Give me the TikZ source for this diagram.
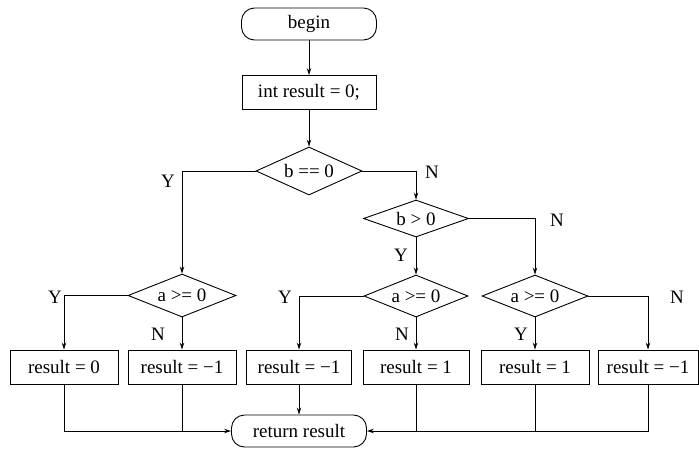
\documentclass[tikz,border=0pt]{standalone}
\usepackage{fontspec}
\setmainfont{Liberation Serif}
\usetikzlibrary{shapes.geometric,arrows.meta}
\begin{document}
\begin{tikzpicture}[x=1pt,y=-1pt,
  font=\fontsize{19}{21}\selectfont,
  line width=0.9pt,
  term/.style={draw, rounded corners=13pt, minimum width=135pt, minimum height=32pt, inner sep=0pt},
  proc/.style={draw, minimum height=34pt, inner sep=0pt},
  dec/.style={draw, diamond, aspect=2.8, inner sep=0pt},
  arr/.style={-{Stealth[length=7pt,width=4.5pt]}},
  lbl/.style={inner sep=0pt}]
\useasboundingbox (0,0) rectangle (699,448);
% nodes
\node[term] (begin) at (309,24) {begin};
\node[proc, minimum width=134pt] (init) at (309,92.5) {int result = 0;};
\node[dec, minimum width=106pt, minimum height=48pt] (bz) at (309,171) {b == 0};
\node[dec, minimum width=105pt, minimum height=37pt] (bp) at (416,218.5) {b > 0};
\node[dec, minimum width=108pt, minimum height=43pt] (dl) at (182,295.5) {a >= 0};
\node[dec, minimum width=104pt, minimum height=42pt] (dm) at (416,296) {a >= 0};
\node[dec, minimum width=106pt, minimum height=42pt] (dr) at (535,296) {a >= 0};
\node[proc, minimum width=108pt] (r1) at (64,367) {result = 0};
\node[proc, minimum width=108pt] (r2) at (182,367) {result = −1};
\node[proc, minimum width=105pt] (r3) at (299,367) {result = −1};
\node[proc, minimum width=106pt] (r4) at (416,367) {result = 1};
\node[proc, minimum width=108pt] (r5) at (535,367) {result = 1};
\node[proc, minimum width=100pt] (r6) at (648,367) {result = −1};
\node[term] (ret) at (299,431) {return result};
% labels
\node[lbl] (y1) at (168,181) {Y};
\node[lbl] (n1) at (432,172) {N};
\node[lbl] (n2) at (557,220) {N};
\node[lbl] (y2) at (401,255) {Y};
\node[lbl] (y3) at (55,297) {Y};
\node[lbl] (n3) at (158,334) {N};
\node[lbl] (y4) at (285,297) {Y};
\node[lbl] (n4) at (402,334) {N};
\node[lbl] (y5) at (521,334) {Y};
\node[lbl] (n5) at (677,297) {N};
% connectors
\draw[arr] (begin) -- (init);
\draw[arr] (init) -- (bz);
\draw[arr] (bz.west) -| (dl.north);
\draw[arr] (bz.east) -| (bp.north);
\draw[arr] (bp.east) -| (dr.north);
\draw[arr] (bp.south) -- (dm.north);
\draw[arr] (dl.west) -| (r1.north);
\draw[arr] (dl.south) -- (r2.north);
\draw[arr] (dm.west) -| (r3.north);
\draw[arr] (dm.south) -- (r4.north);
\draw[arr] (dr.south) -- (r5.north);
\draw[arr] (dr.east) -| (r6.north);
\draw[arr] (r1.south) |- (ret.west);
\draw (r2.south) -- (r2.south |- ret.west);
\draw[arr] (r3.south) -- (ret.north);
\draw[arr] (r6.south) |- (ret.east);
\draw (r4.south) -- (r4.south |- ret.east);
\draw (r5.south) -- (r5.south |- ret.east);
\end{tikzpicture}
\end{document}
